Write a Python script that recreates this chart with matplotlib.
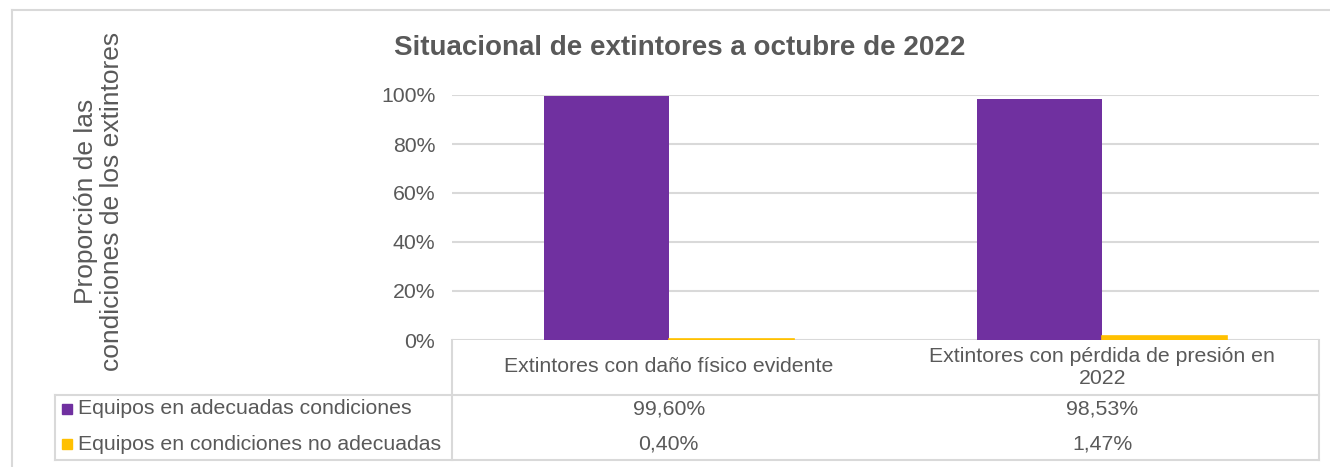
import matplotlib.pyplot as plt
from matplotlib.lines import Line2D
from matplotlib.patches import Rectangle
from matplotlib.transforms import blended_transform_factory

plt.rcParams['font.family'] = ['Liberation Sans', 'DejaVu Sans']

# data
categories = ["Extintores con daño físico evidente",
              "Extintores con pérdida de presión en\n2022"]
series_names = ["Equipos en adecuadas condiciones",
                "Equipos en condiciones no adecuadas"]
adecuadas = [0.9960, 0.9853]
no_adecuadas = [0.0040, 0.0147]
yticks = [0.0, 0.2, 0.4, 0.6, 0.8, 1.0]

colors = ["#7030A0", "#FFC000"]
text_c = "#595959"
line_c = "#d9d9d9"

W, H = 1330, 467
fig = plt.figure(figsize=(W / 100, H / 100), dpi=100, facecolor="white")


def fx(px):
    return px / W


def fy(py):
    return 1 - py / H


ax = fig.add_axes([fx(452), fy(340), fx(1319) - fx(452), fy(95) - fy(340)], zorder=5)
ax.patch.set_alpha(0)
xs = list(range(len(categories)))
bw = 0.288
ax.bar([x - bw / 2 for x in xs], adecuadas, bw, color=colors[0], zorder=3)
ax.bar([x + bw / 2 for x in xs], no_adecuadas, bw, color=colors[1], zorder=3,
       edgecolor=colors[1], lw=1.2)
ax.set_xlim(-0.5, len(categories) - 0.5)
ax.set_ylim(0, 1)
ax.set_yticks(yticks)
ax.set_yticklabels([f"{int(round(v * 100))}%" for v in yticks], color=text_c, fontsize=15.3)
ax.tick_params(axis="y", length=0, pad=12)
ax.set_xticks([])
ax.grid(axis="y", color=line_c, lw=1.5, zorder=0)
for s in ax.spines.values():
    s.set_visible(False)

# title and y label
fig.text(fx(680), fy(48), "Situacional de extintores a octubre de 2022", ha="center",
         va="center", fontsize=20, fontweight="bold", color=text_c)
fig.text(fx(99), fy(201), "Proporción de las\ncondiciones de los extintores", rotation=90,
         ha="center", va="center", fontsize=19, color=text_c, linespacing=1.1)

# data table
def hline(y, x0, x1):
    fig.add_artist(Line2D([fx(x0), fx(x1)], [fy(y), fy(y)], color=line_c, lw=1.5, zorder=1))


def vline(x, y0, y1):
    fig.add_artist(Line2D([fx(x), fx(x)], [fy(y0), fy(y1)], color=line_c, lw=1.5, zorder=1))


hline(395, 55, 1319)
hline(460, 55, 1319)
vline(452, 340, 460)
vline(55, 395, 460)
vline(1319, 340, 460)

# outer chart frame
hline(10, 12, 1330)
vline(12, 10, 467)

trans = blended_transform_factory(ax.transData, fig.transFigure)
for x, cat in zip(xs, categories):
    fig.text(x, fy(367), cat, transform=trans, ha="center", va="center",
             fontsize=15.3, color=text_c, linespacing=1.2)

row_y = [409, 444]
for ry, name, col, vals in zip(row_y, series_names, colors, [adecuadas, no_adecuadas]):
    fig.add_artist(Rectangle((fx(62), fy(ry + 5)), fx(10), 10 / H, color=col))
    fig.text(fx(78), fy(ry), name, ha="left", va="center", fontsize=15.3, color=text_c)
    for x, v in zip(xs, vals):
        fig.text(x, fy(ry), f"{v * 100:.2f}%".replace(".", ","), transform=trans,
                 ha="center", va="center", fontsize=15.3, color=text_c)

fig.savefig("out.png", dpi=100, facecolor="white")
